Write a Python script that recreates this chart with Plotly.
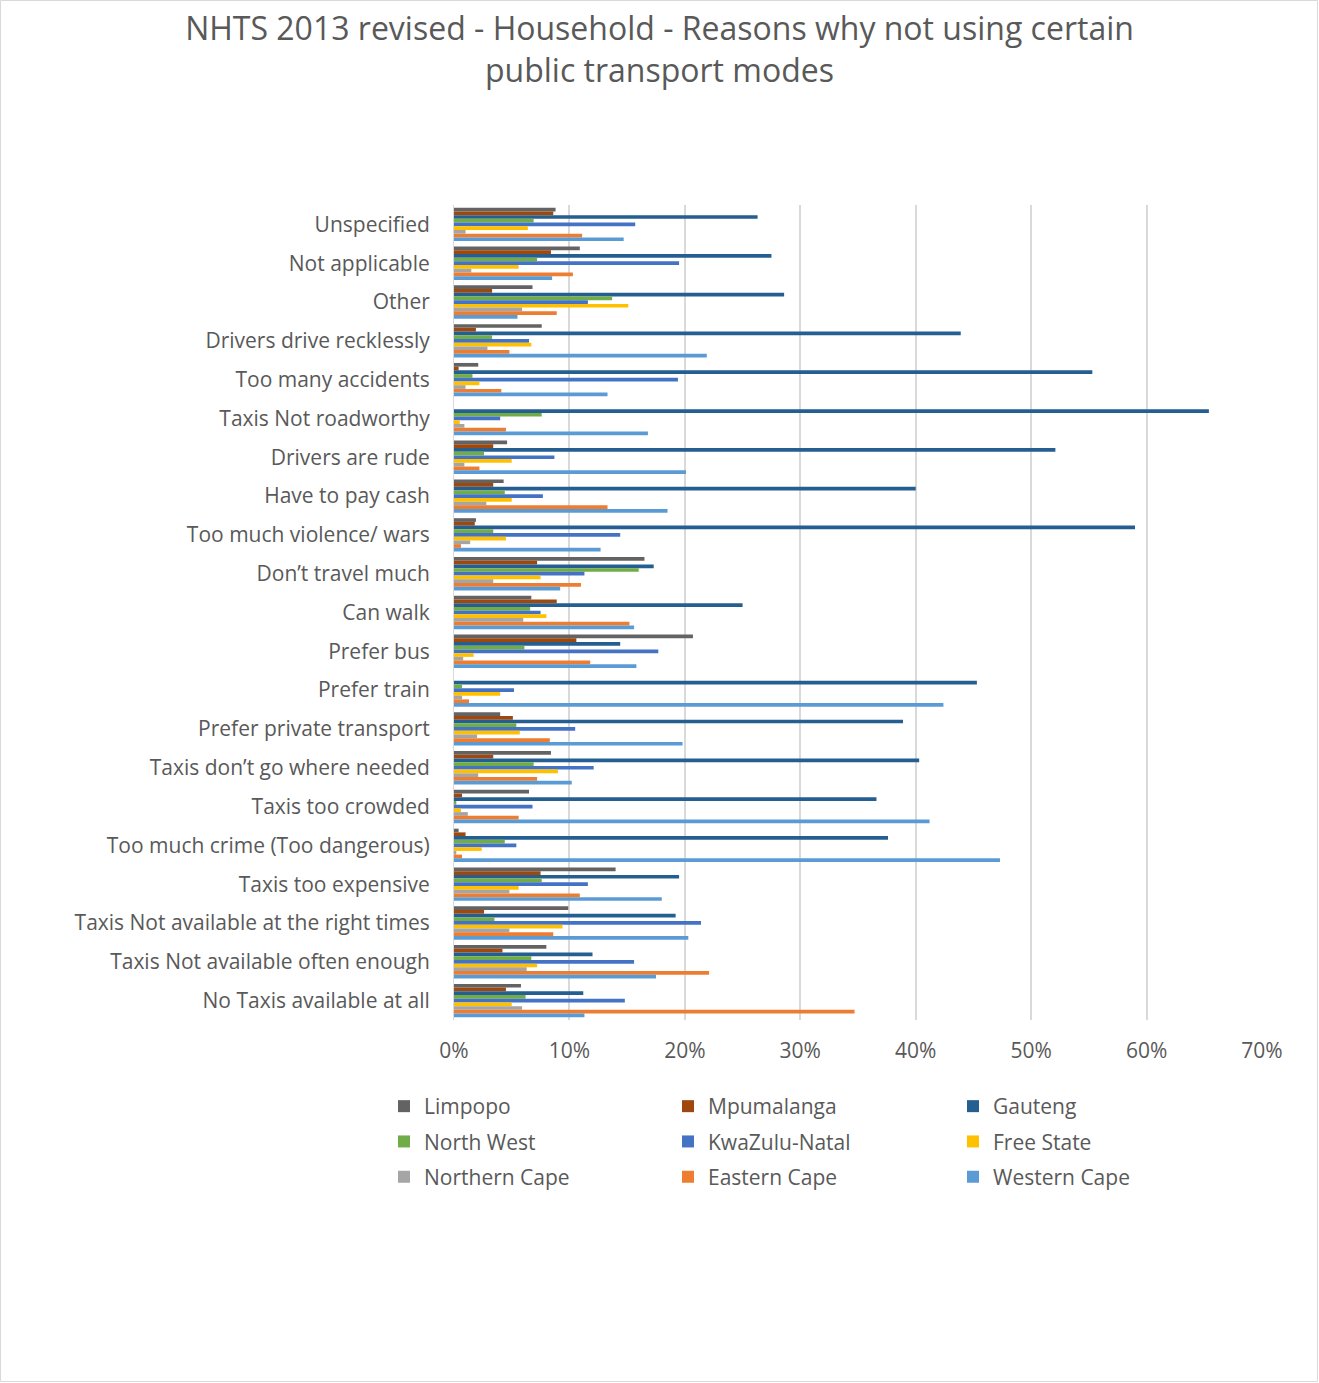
import plotly.graph_objects as go

# Reasons (top to bottom as drawn)
reasons = [
    "Unspecified", "Not applicable", "Other", "Drivers drive recklessly",
    "Too many accidents", "Taxis Not roadworthy", "Drivers are rude",
    "Have to pay cash", "Too much violence/ wars", "Don\u2019t travel much",
    "Can walk", "Prefer bus", "Prefer train", "Prefer private transport",
    "Taxis don\u2019t go where needed", "Taxis too crowded",
    "Too much crime (Too dangerous)", "Taxis too expensive",
    "Taxis Not available at the right times",
    "Taxis Not available often enough", "No Taxis available at all",
]

# Percentage of households per province, same order as reasons
limpopo = [8.8, 10.9, 6.8, 7.6, 2.1, 0.0, 4.6, 4.3, 1.9, 16.5, 6.7, 20.7,
           0.0, 4.0, 8.4, 6.5, 0.4, 14.0, 9.9, 8.0, 5.8]
mpumalanga = [8.6, 8.4, 3.3, 1.9, 0.4, 0.0, 3.4, 3.4, 1.8, 7.2, 8.9, 10.6,
              0.0, 5.1, 3.4, 0.7, 1.0, 7.5, 2.6, 4.2, 4.5]
gauteng = [26.3, 27.5, 28.6, 43.9, 55.3, 65.4, 52.1, 40.0, 59.0, 17.3, 25.0,
           14.4, 45.3, 38.9, 40.3, 36.6, 37.6, 19.5, 19.2, 12.0, 11.2]
north_west = [6.9, 7.2, 13.7, 3.3, 1.6, 7.6, 2.6, 4.4, 3.4, 16.0, 6.6, 6.1,
              0.7, 5.4, 6.9, 0.2, 4.4, 7.6, 3.5, 6.7, 6.2]
kwazulu_natal = [15.7, 19.5, 11.6, 6.5, 19.4, 4.0, 8.7, 7.7, 14.4, 11.3, 7.5,
                 17.7, 5.2, 10.5, 12.1, 6.8, 5.4, 11.6, 21.4, 15.6, 14.8]
free_state = [6.4, 5.6, 15.1, 6.7, 2.2, 0.5, 5.0, 5.0, 4.5, 7.5, 8.0, 1.7,
              4.0, 5.7, 9.0, 0.6, 2.4, 5.6, 9.4, 7.2, 5.0]
northern_cape = [1.0, 1.5, 5.9, 2.9, 1.0, 0.9, 0.9, 2.8, 1.4, 3.4, 6.0, 0.8,
                 0.7, 2.0, 2.1, 1.2, 0.2, 4.8, 4.8, 6.3, 5.9]
eastern_cape = [11.1, 10.3, 8.9, 4.8, 4.1, 4.5, 2.2, 13.3, 0.6, 11.0, 15.2,
                11.8, 1.3, 8.3, 7.2, 5.6, 0.7, 10.9, 8.6, 22.1, 34.7]
western_cape = [14.7, 8.5, 5.5, 21.9, 13.3, 16.8, 20.1, 18.5, 12.7, 9.2, 15.6,
                15.8, 42.4, 19.8, 10.2, 41.2, 47.3, 18.0, 20.3, 17.5, 11.3]

provinces = ["Limpopo", "Mpumalanga", "Gauteng", "North West", "KwaZulu-Natal",
             "Free State", "Northern Cape", "Eastern Cape", "Western Cape"]
series = [limpopo, mpumalanga, gauteng, north_west, kwazulu_natal,
          free_state, northern_cape, eastern_cape, western_cape]
colors = ["#636363", "#9E480E", "#255E91", "#70AD47", "#4472C4",
          "#FFC000", "#A5A5A5", "#ED7D31", "#5B9BD5"]

FONT = "Open Sans"
GREY = "#595959"

W, H = 1319, 1383
L, R, T, B = 454, 57, 205, 363
pw, ph = W - L - R, H - T - B

# legend laid out as three columns, read row by row
legend_ids = ["legend", "legend2", "legend3"]

fig = go.Figure()
for i, (name, vals, col) in enumerate(zip(provinces, series, colors)):
    fig.add_trace(go.Bar(
        y=reasons, x=vals, name=name, orientation="h",
        marker=dict(color=col, line=dict(width=0)),
        legend=legend_ids[i % 3], legendgroup=name,
    ))

legend_style = dict(
    orientation="v", xanchor="left", yanchor="top",
    y=-(1086 - (T + ph)) / ph,
    font=dict(family=FONT, size=21, color=GREY),
    tracegroupgap=5, itemwidth=30, traceorder="grouped",
    bgcolor="rgba(0,0,0,0)",
)
col_text_x = [424, 708, 993]

fig.update_layout(
    width=W, height=H,
    margin=dict(l=L, r=R, t=T, b=B),
    paper_bgcolor="white", plot_bgcolor="white",
    barmode="group", bargap=0.14, bargroupgap=0,
    font=dict(family=FONT, color=GREY),
    title=dict(
        text="NHTS 2013 revised - Household - Reasons why not using certain<br>public transport modes",
        x=0.5, xanchor="center", xref="container",
        y=1 - 40 / H, yanchor="middle", yref="container",
        font=dict(family=FONT, size=32, color=GREY),
    ),
    xaxis=dict(
        range=[0, 70], dtick=10, ticksuffix="%",
        showgrid=True, gridcolor="#D9D9D9", gridwidth=2,
        zeroline=False, showline=False,
        tickfont=dict(family=FONT, size=21, color=GREY),
        ticks="", ticklabelstandoff=16,
    ),
    yaxis=dict(
        autorange="reversed", showgrid=False, zeroline=False,
        showline=True, linecolor="#D9D9D9", linewidth=1,
        tickfont=dict(family=FONT, size=21, color=GREY),
        ticks="", ticklabelstandoff=19,
    ),
    showlegend=True,
)
for lid, tx in zip(legend_ids, col_text_x):
    fig.update_layout({lid: dict(legend_style, x=(tx - 40 - L) / pw)})

# thin outer frame around the whole chart
fig.add_shape(
    type="rect", xref="paper", yref="paper",
    x0=-(L - 0.5) / pw, x1=(W - 1.5 - L) / pw,
    y0=-(B - 1.5) / ph, y1=1 + (T - 0.5) / ph,
    line=dict(color="#D9D9D9", width=1), fillcolor="rgba(0,0,0,0)",
    layer="below",
)

fig.write_html("out.html")
